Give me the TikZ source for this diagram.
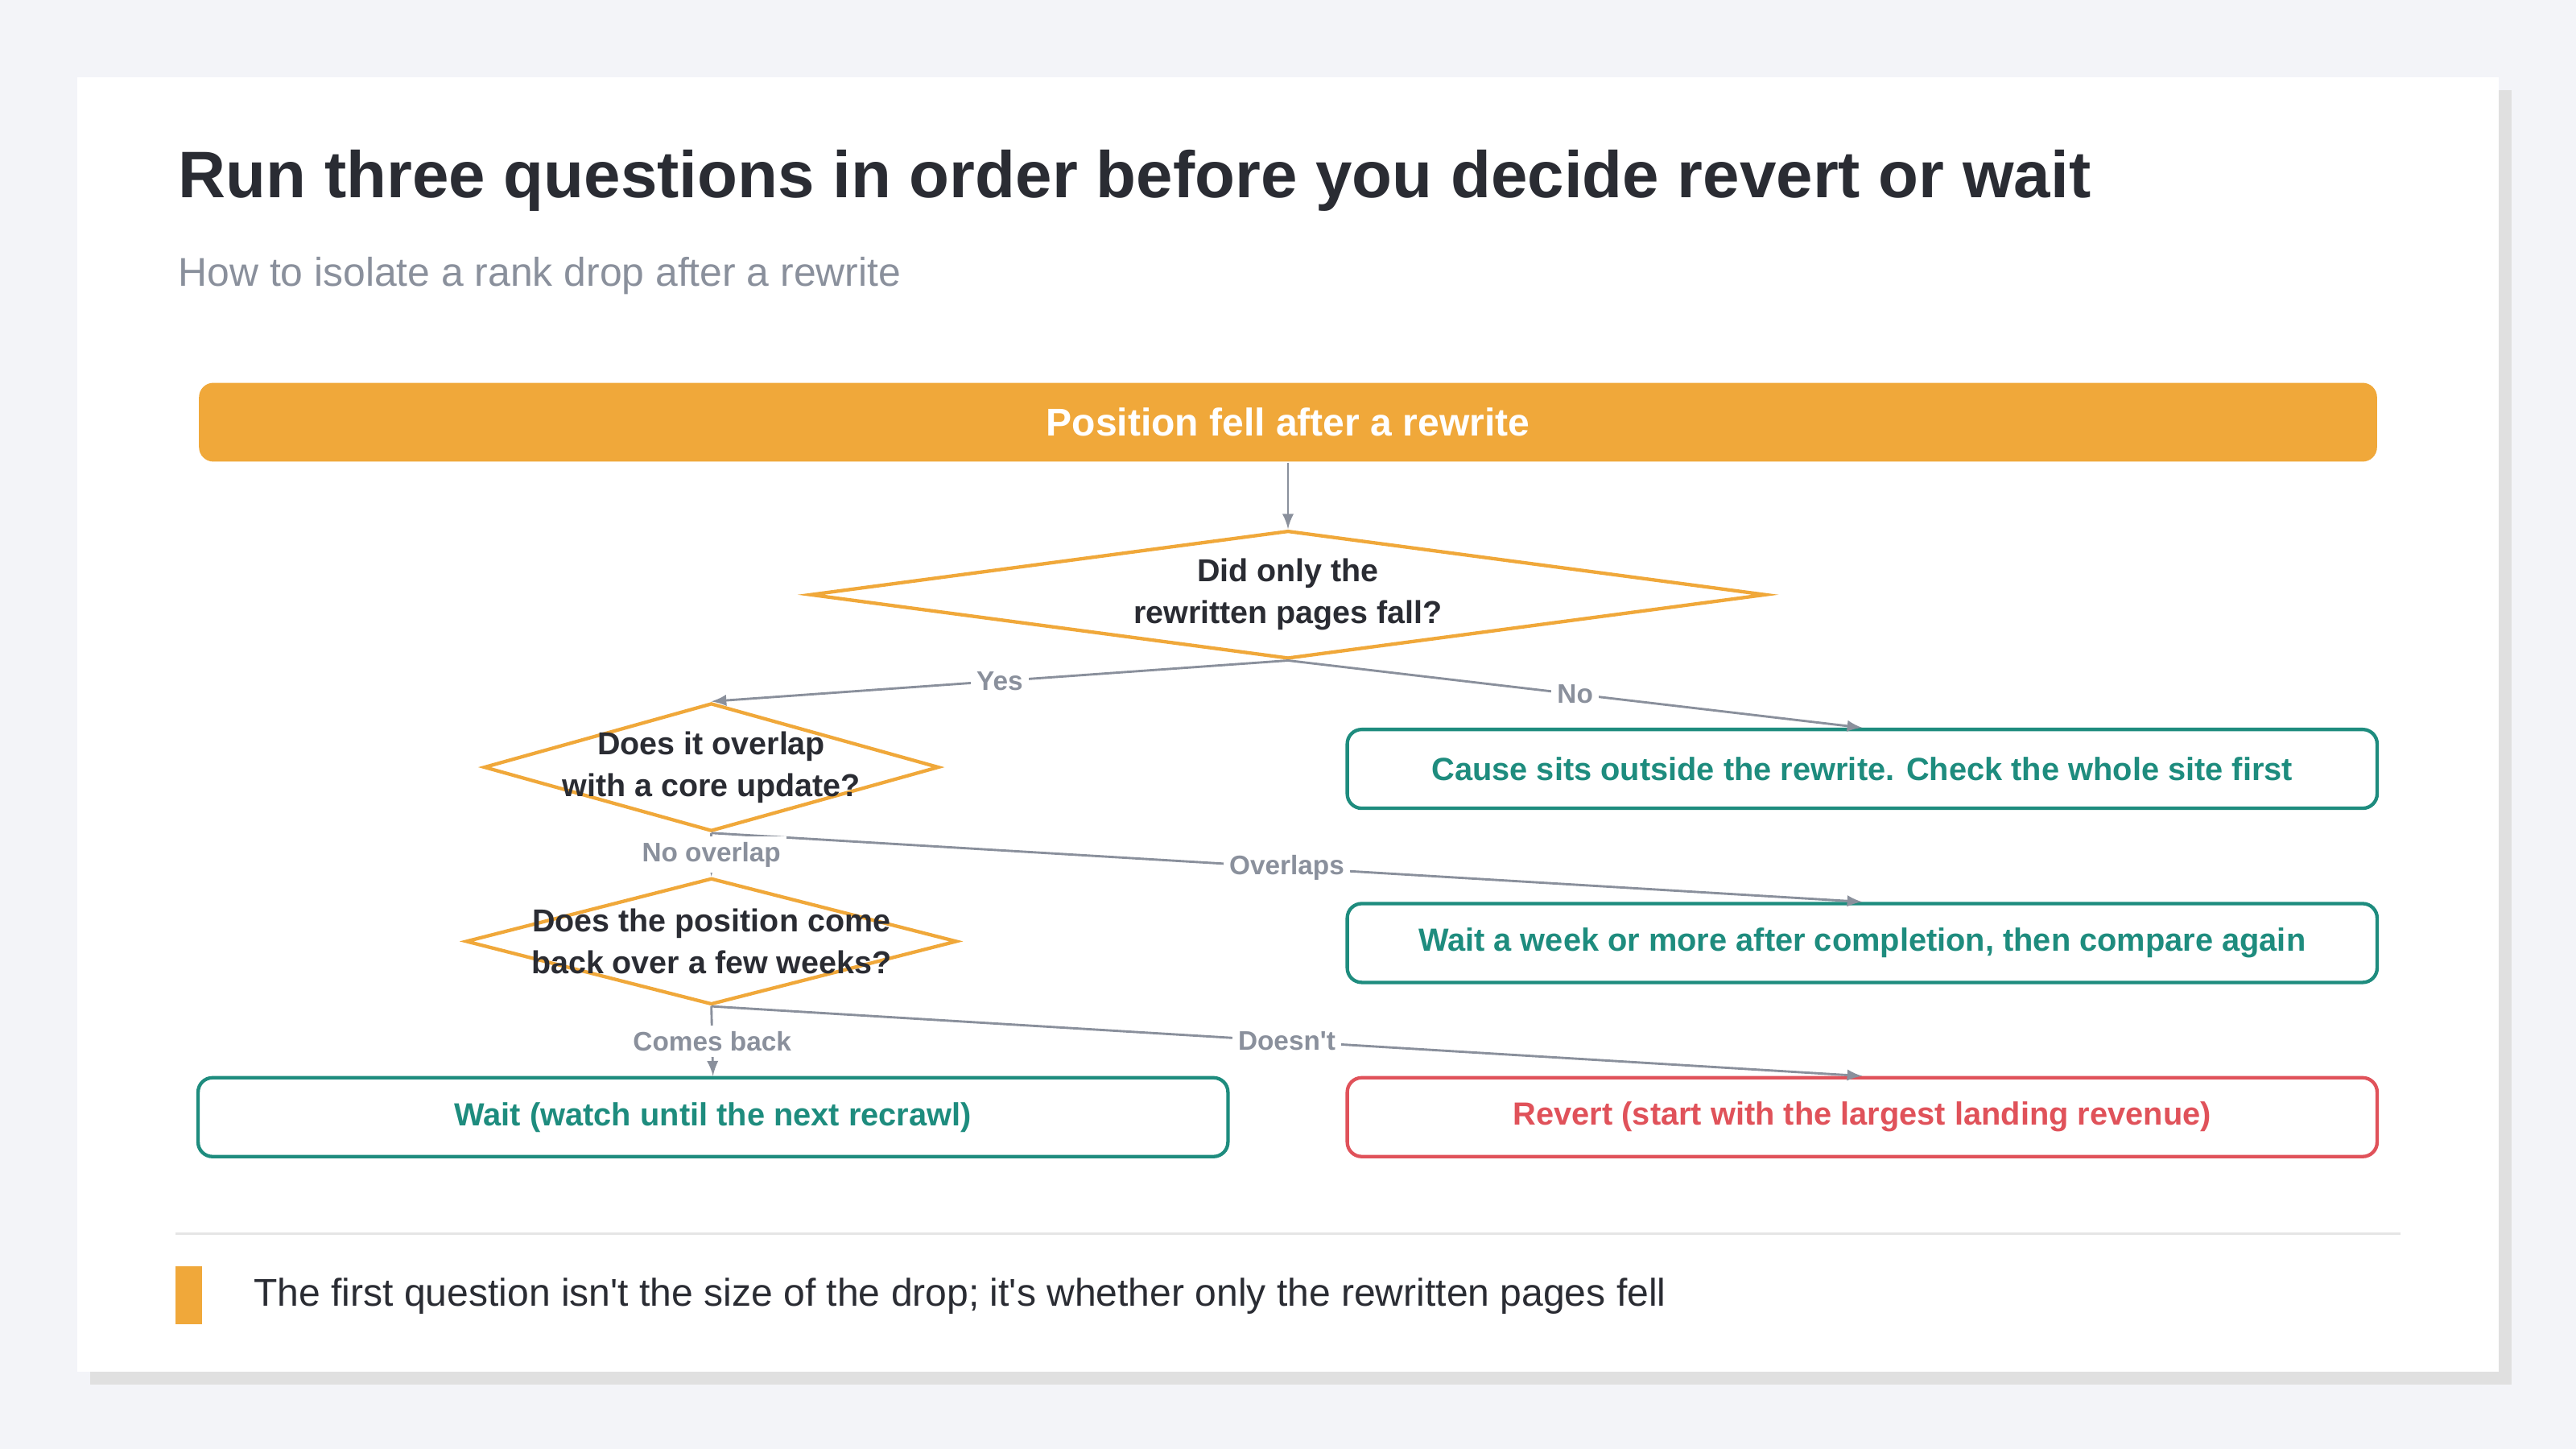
\documentclass[tikz,border=0pt]{standalone}
\usepackage{fontspec}
\setmainfont{Liberation Sans}
\usetikzlibrary{shapes.geometric}
\definecolor{bgcol}{HTML}{F3F4F8}
\definecolor{orng}{HTML}{F0A83A}
\definecolor{teal}{HTML}{1E8C7E}
\definecolor{redc}{HTML}{E0525A}
\definecolor{edgec}{HTML}{8A909C}
\definecolor{inkc}{HTML}{2A2C33}
\begin{document}
\begin{tikzpicture}[x=0.02cm, y=-0.02cm, thick]
        % Define styles
        \tikzstyle{decision} = [diamond, draw=orng, line width=1.2pt, fill=white, inner sep=0pt, shape aspect=1]
        \tikzstyle{qtext} = [align=center, font=\fontsize{11}{14.5}\selectfont\bfseries, text=inkc]
        \tikzstyle{outcome} = [rectangle, draw=teal, line width=1.2pt, rounded corners=5pt, fill=white, minimum width=12.54cm, minimum height=0.96cm, font=\fontsize{11.1}{13}\selectfont\bfseries, text=teal]
        \tikzstyle{arrow} = [->, >=latex, draw=edgec, line width=0.8pt]
        \tikzstyle{elabel} = [fill=white, inner sep=2pt, font=\fontsize{9.3}{10}\selectfont\bfseries, text=edgec]

        % Background and card
        \fill[bgcol] (0,0) rectangle (1568,882);
        \useasboundingbox (0,0) rectangle (1568,882);
        \fill[black!12] (55,55) rectangle (1529,843);
        \fill[white] (47,47) rectangle (1521,835);

        % Heading
        \node[anchor=west, text=inkc, font=\fontsize{22.8}{26}\selectfont\bfseries] (title) at (102,110) {Run three questions in order before you decide revert or wait};
        \node[anchor=west, text=edgec, font=\fontsize{13.9}{16}\selectfont] (subtitle) at (102,168) {How to isolate a rank drop after a rewrite};

        % Nodes
        \node (start) [rectangle, fill=orng, rounded corners=5pt, minimum width=26.52cm, minimum height=0.96cm, text=white, font=\fontsize{13.4}{15}\selectfont\bfseries] at (784,257) {Position fell after a rewrite};

        \node (only) [decision, minimum width=11.64cm, minimum height=1.56cm] at (784,362) {};
        \node (core) [decision, minimum width=5.54cm, minimum height=1.56cm] at (433,467) {};
        \node (back) [decision, minimum width=5.98cm, minimum height=1.54cm] at (433,573) {};
        \node [qtext] at (only.center) {Did only the\\rewritten pages fall?};
        \node [qtext] at (core.center) {Does it overlap\\with a core update?};
        \node [qtext] at (back.center) {Does the position come\\back over a few weeks?};

        \node (site) [outcome] at (1133.5,468) {Cause sits outside the rewrite. Check the whole site first};
        \node (week) [outcome] at (1133.5,574) {Wait a week or more after completion, then compare again};
        \node (recrawl) [outcome] at (434,680) {Wait (watch until the next recrawl)};
        \node (revert) [outcome, draw=redc, text=redc] at (1133.5,680) {Revert (start with the largest landing revenue)};

        % Connections
        \draw [arrow] (start.south) -- (only.north);
        \draw [arrow] (only.south) -- node[elabel, pos=0.5] {Yes} (core.north);
        \draw [arrow] (only.south) -- node[elabel, pos=0.5] {No} (site.north);
        \draw [arrow] (core.south) -- node[elabel, pos=0.5] {Overlaps} (week.north);
        \draw [arrow] (core.south) -- node[elabel, pos=0.5] {No overlap} (back.north);
        \draw [arrow] (back.south) -- node[elabel, pos=0.5] {Comes back} (recrawl.north);
        \draw [arrow] (back.south) -- node[elabel, pos=0.5] {Doesn\textquotesingle t} (revert.north);

        % Footer
        \draw[black!10, line width=0.8pt] (107,751) -- (1461,751);
        \fill[orng] (107,771) rectangle (123,806);
        \node[anchor=west, text=inkc, font=\fontsize{13.4}{15}\selectfont] (note) at (148,789) {The first question isn\textquotesingle t the size of the drop; it\textquotesingle s whether only the rewritten pages fell};
\end{tikzpicture}
\end{document}
